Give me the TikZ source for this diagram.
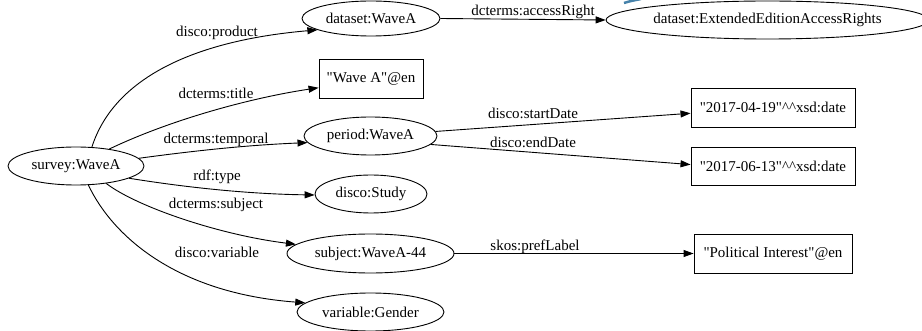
\documentclass[tikz,border=0pt]{standalone}
\usepackage{fontspec}
\setmainfont{Liberation Serif}[Ligatures=TeXOff]
\usetikzlibrary{arrows.meta,shapes.geometric}
\newcommand{\dq}{\char34\relax}
\begin{document}
\begin{tikzpicture}[x=1pt,y=-1pt,
  every node/.style={font=\fontsize{15}{18}\selectfont},
  ell/.style={draw,ellipse,inner sep=0pt,line width=0.9pt},
  lit/.style={draw,rectangle,inner sep=0pt,line width=0.9pt},
  lbl/.style={inner sep=0pt},
  edge/.style={line width=0.9pt,-{Triangle[length=10pt,width=7pt]}}]
\useasboundingbox (0,0) rectangle (922,331);
% nodes
\node[ell,minimum width=136pt,minimum height=38pt] (s) at (76,166) {survey:WaveA};
\node[ell,minimum width=138pt,minimum height=35pt] (d) at (371,18.5) {dataset:WaveA};
\node[lit,minimum width=104pt,minimum height=39pt] (w) at (371,78.5) {\dq Wave A\dq @en};
\node[ell,minimum width=133pt,minimum height=38pt] (p) at (370.5,136) {period:WaveA};
\node[ell,minimum width=112pt,minimum height=38pt] (st) at (371,194) {disco:Study};
\node[ell,minimum width=167pt,minimum height=39pt] (sj) at (370.5,253.5) {subject:WaveA-44};
\node[ell,minimum width=147pt,minimum height=38pt] (v) at (370.5,312) {variable:Gender};
\node[ell,minimum width=305pt,minimum height=38pt] (e) at (767.5,20) {dataset:ExtendedEditionAccessRights};
\node[lit,minimum width=164pt,minimum height=39pt] (sd) at (773,107.5) {\dq 2017-04-19\dq\textasciicircum\textasciicircum xsd:date};
\node[lit,minimum width=164pt,minimum height=38pt] (ed) at (773,166) {\dq 2017-06-13\dq\textasciicircum\textasciicircum xsd:date};
\node[lit,minimum width=158pt,minimum height=39pt] (pl) at (773,253.5) {\dq Political Interest\dq @en};
% edges
\draw[edge] (s.50) .. controls (115,75) and (200,40) .. (d.192);
\draw[edge] (s.27) .. controls (170,120) and (250,98) .. (w.190);
\draw[edge] (s.7) .. controls (200,150) and (250,145) .. (p.186);
\draw[edge] (s.-13) .. controls (190,188) and (250,194) .. (st.181);
\draw[edge] (s.-30) .. controls (137,207) and (220,235) .. (sj.173);
\draw[edge] (s.-57) .. controls (112,235) and (175,293) .. (v.172);
\draw[edge] (d.east) -- (e.west);
\draw[edge] (p.4) -- (sd.184);
\draw[edge] (p.-8) -- (ed.179);
\draw[edge] (sj.east) -- (pl.west);
% edge labels
\node[lbl] (l1) at (217,33) {disco:product};
\node[lbl] (l2) at (216,93) {dcterms:title};
\node[lbl] (l3) at (216,140) {dcterms:temporal};
\node[lbl] (l4) at (217,177) {rdf:type};
\node[lbl] (l5) at (216,205) {dcterms:subject};
\node[lbl] (l6) at (217,252) {disco:variable};
\node[lbl] (l7) at (533,12) {dcterms:accessRight};
\node[lbl] (l8) at (533,113) {disco:startDate};
\node[lbl] (l9) at (533,142) {disco:endDate};
\node[lbl] (l10) at (535,247) {skos:prefLabel};
% stray blue stroke at top edge
\draw[color={rgb,255:red,70;green,130;blue,170},line width=2.5pt] (624,3) .. controls (630,1) and (636,0) .. (641,-1);
\end{tikzpicture}
\end{document}
